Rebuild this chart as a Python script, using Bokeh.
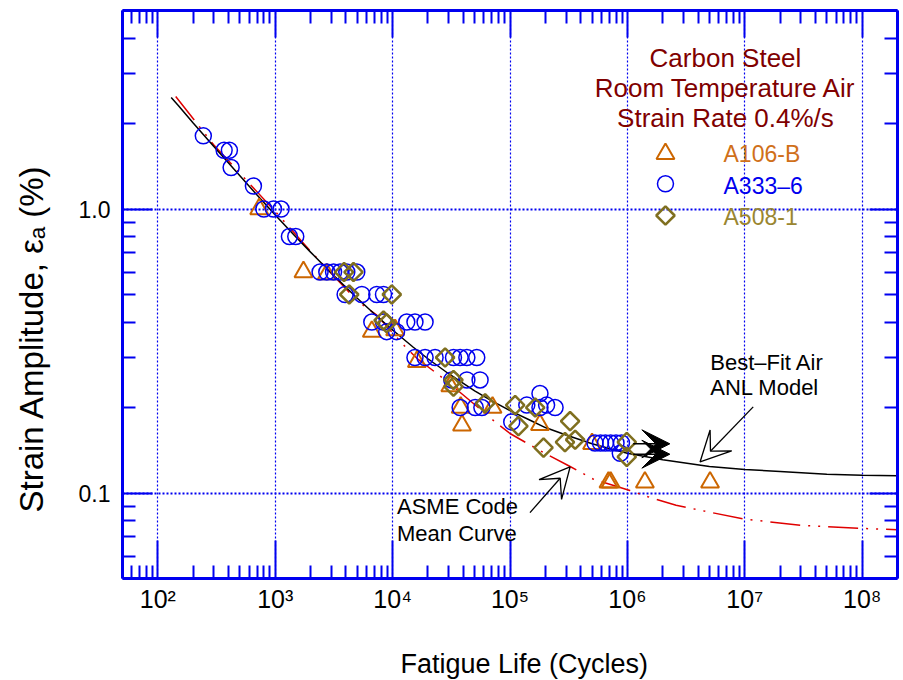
import numpy as np
from bokeh.plotting import figure
from bokeh.models import (LogAxis, FixedTicker, Range1d, LinearScale, Label, Arrow,
                          VeeHead, ColumnDataSource, CustomJSTickFormatter, Title)
from bokeh.embed import file_html
from bokeh.resources import INLINE

# ---------------- data ----------------
# A106-B (triangles)
a106_N = [730, 1740, 2750, 6650, 10500, 16100, 31000, 38000, 39000, 71000,
          180000, 500000, 690000, 720000, 1.41e6, 5.06e6]
a106_eps = [1.0, 0.6, 0.59, 0.37, 0.375, 0.29, 0.238, 0.2, 0.173, 0.2,
            0.174, 0.149, 0.109, 0.109, 0.109, 0.109]

# A333-6 (circles)
a333_N = [244, 367, 407, 421, 652, 800, 966, 1122, 1321, 1496,
          2410, 2750, 3140, 3570, 4070, 4950,
          3940, 5470, 7330, 8360,
          6650, 8360, 13200, 15500, 18900,
          8900, 10800,
          15500, 18900, 23000, 33000, 37600, 42900, 52100,
          31900, 42900, 55600,
          37600, 50500, 57600,
          103500, 139000, 180000, 180000, 205000, 242000,
          530000, 590000, 650000, 720000, 800000, 890000, 870000]
a333_eps = [1.81, 1.61, 1.61, 1.40, 1.205, 1.0, 1.0, 1.0, 0.8, 0.8,
            0.6, 0.6, 0.6, 0.6, 0.6, 0.6,
            0.5, 0.5, 0.5, 0.5,
            0.4, 0.4, 0.4, 0.4, 0.4,
            0.37, 0.37,
            0.3, 0.3, 0.3, 0.3, 0.3, 0.3, 0.3,
            0.25, 0.25, 0.25,
            0.2, 0.2, 0.2,
            0.178, 0.204, 0.224, 0.2, 0.204, 0.2,
            0.15, 0.15, 0.15, 0.15, 0.15, 0.15, 0.138]

# A508-1 (diamonds)
a508_N = [3860, 4640, 4270, 9840, 8360, 8900, 28000, 33000, 33000, 61400,
          110600, 118000, 164000, 193000, 294000, 325000, 359000, 988000, 988000]
a508_eps = [0.6, 0.6, 0.5, 0.5, 0.405, 0.396, 0.3, 0.25, 0.237, 0.207,
            0.204, 0.172, 0.2, 0.1445, 0.151, 0.179, 0.154, 0.151, 0.134]

# run-out tests (arrows)
runout_N_start = [1.12e6, 1.12e6]
runout_N_end = [2.3e6, 2.3e6]
runout_eps = [0.149, 0.137]

# Best-fit air ANL model curve
anl_N = [130, 150, 200, 300, 500, 700, 1000, 1500, 2000, 3000, 5000, 7000,
         1e4, 1.5e4, 2e4, 3e4, 5e4, 7e4, 1e5, 1.5e5, 2e5, 3e5, 5e5, 7e5,
         1e6, 2e6, 5e6, 1e7, 2e7, 5e7, 1e8, 2e8]
anl_eps = [2.47, 2.31, 2.01, 1.66, 1.31, 1.12, 0.953, 0.797, 0.705, 0.595,
           0.485, 0.427, 0.375, 0.326, 0.297, 0.263, 0.229, 0.211, 0.195,
           0.180, 0.170, 0.160, 0.149, 0.1435, 0.138, 0.131, 0.124, 0.121,
           0.119, 0.1165, 0.1155, 0.115]

# ASME Code mean curve
asme_N = [142, 300, 1000, 2000, 5000, 7330, 12400, 16100, 27100, 50000, 74600,
          1e5, 1.8e5, 3.25e5, 5.1e5, 1.05e6, 1.5e6, 2.6e6, 9.7e6, 3e7, 1e8, 2e8]
asme_eps = [2.49, 1.68, 0.98, 0.71, 0.475, 0.423, 0.332, 0.298, 0.253, 0.205,
            0.178, 0.162, 0.141, 0.124, 0.112, 0.102, 0.097, 0.0905, 0.081,
            0.077, 0.075, 0.0743]

# ticks
x_major = [1e2, 1e3, 1e4, 1e5, 1e6, 1e7, 1e8]
x_major_labels = ["10²", "10³", "10⁴", "10⁵", "10⁶", "10⁷", "10⁸"]
x_minor = [m * 10.0 ** e for e in range(1, 9) for m in range(2, 10)]
y_major = [0.1, 1.0]
y_major_labels = ["0.1", "1.0"]
y_minor = [m * 10.0 ** e for e in (-2, -1, 0) for m in range(2, 10)]

x_title = "Fatigue Life (Cycles)"
y_title = "Strain Amplitude, εₐ (%)"
title_lines = ["Carbon Steel", "Room Temperature Air", "Strain Rate 0.4%/s"]
legend_labels = ["A106-B", "A333–6", "A508-1"]

# ---------------- styles ----------------
BLUE = "#0000f0"
C_TRI = "#cc6600"
C_CIR = "#0000ee"
C_DIA = "#7f6f1f"
FONT = "Liberation Sans"

p = figure(width=903, height=680, x_axis_type="log", y_axis_type="log",
           x_range=Range1d(50, 2e8), y_range=Range1d(0.05, 5),
           output_backend="svg", toolbar_location=None,
           min_border_left=122, min_border_right=6, min_border_top=10,
           min_border_bottom=102)
p.outline_line_color = None
p.background_fill_color = "white"
p.border_fill_color = "white"

# fractional frame coordinates for the annotation block
p.extra_x_ranges = {"frac": Range1d(0, 1)}
p.extra_y_ranges = {"frac": Range1d(0, 1)}
p.extra_x_scales = {"frac": LinearScale()}
p.extra_y_scales = {"frac": LinearScale()}


def style_axis(ax, major_in, show_labels):
    ax.axis_line_color = BLUE
    ax.axis_line_width = 3
    ax.major_tick_line_color = BLUE
    ax.minor_tick_line_color = BLUE
    ax.major_tick_line_width = 2
    ax.minor_tick_line_width = 2
    ax.major_tick_in = major_in
    ax.major_tick_out = 0
    ax.minor_tick_in = 13
    ax.minor_tick_out = 0
    if not show_labels:
        ax.formatter = CustomJSTickFormatter(code="return ' ';")
        ax.major_label_text_font_size = "2px"
        ax.major_label_text_color = None
        ax.major_label_standoff = 0


xax = p.xaxis[0]
xax.ticker = FixedTicker(ticks=x_major, minor_ticks=x_minor)
xax.major_label_overrides = {t: s for t, s in zip(x_major, x_major_labels)}
style_axis(xax, 38, True)
xax.major_label_text_font = FONT
xax.major_label_text_font_size = "25px"
xax.major_label_text_color = "black"
xax.major_label_standoff = 6
# blank axis label used only as a spacer so the title below sits lower
xax.axis_label = " "
xax.axis_label_text_font = FONT
xax.axis_label_text_font_size = "24px"
xax.axis_label_standoff = 0

yax = p.yaxis[0]
yax.ticker = FixedTicker(ticks=y_major, minor_ticks=y_minor)
yax.major_label_overrides = {t: s for t, s in zip(y_major, y_major_labels)}
style_axis(yax, 30, True)
yax.major_label_text_font = FONT
yax.major_label_text_font_size = "23px"
yax.major_label_text_color = "black"
yax.major_label_standoff = 12
yax.axis_label = " "
yax.axis_label_text_font = FONT
yax.axis_label_text_font_size = "8px"
yax.axis_label_standoff = 0

top = LogAxis(ticker=FixedTicker(ticks=x_major, minor_ticks=x_minor))
style_axis(top, 27, False)
p.add_layout(top, "above")
right = LogAxis(ticker=FixedTicker(ticks=y_major, minor_ticks=y_minor))
style_axis(right, 28, False)
p.add_layout(right, "right")

p.xgrid.grid_line_color = BLUE
p.xgrid.grid_line_width = 1.2
p.xgrid.grid_line_dash = "2 2"
p.ygrid.grid_line_color = BLUE
p.ygrid.grid_line_width = 2
p.ygrid.grid_line_dash = "2 2"

# axis titles
p.add_layout(Title(text=x_title, align="left", offset=278, standoff=2,
                   vertical_align="bottom",
                   text_font=FONT, text_font_size="27px",
                   text_font_style="normal", text_color="black"), "below")
p.add_layout(Title(text=y_title, align="left", offset=66, standoff=23,
                   vertical_align="top",
                   text_font=FONT, text_font_size="33px",
                   text_font_style="normal", text_color="black"), "left")

# curves
p.line(asme_N, asme_eps, line_color="#e00000", line_width=1.5,
       line_dash="30 8 2 8 2 8")
p.line(anl_N, anl_eps, line_color="black", line_width=1.5)

# data points
p.scatter(a106_N, a106_eps, marker="triangle", size=18, fill_color=None,
          line_color=C_TRI, line_width=2)
p.scatter(a333_N, a333_eps, marker="circle", size=16, fill_color=None,
          line_color=C_CIR, line_width=1.5)
p.scatter(a508_N, a508_eps, marker="square", angle=np.pi / 4, size=13,
          fill_color=None, line_color=C_DIA, line_width=2.5)

# run-out arrows
ro = ColumnDataSource(dict(x0=runout_N_start, x1=runout_N_end,
                           y0=runout_eps, y1=runout_eps))
p.add_layout(Arrow(source=ro, x_start="x0", y_start="y0", x_end="x1", y_end="y1",
                   line_color="black", line_width=1.5,
                   end=VeeHead(size=28, fill_color="black", line_color="black")))

# annotation arrows
p.add_layout(Arrow(x_start=1.18e7, y_start=0.201, x_end=4.16e6, y_end=0.1286,
                   line_color="black", line_width=1.3,
                   end=VeeHead(size=30, fill_color="white", line_color="black",
                               line_width=1.3)))
p.add_layout(Arrow(x_start=1.48e5, y_start=0.0853, x_end=3.25e5, y_end=0.1235,
                   line_color="black", line_width=1.3,
                   end=VeeHead(size=30, fill_color="white", line_color="black",
                               line_width=1.3)))

for txt, xx, yy in (("Best–Fit Air", 5.08e6, 0.289), ("ANL Model", 5.08e6, 0.236),
                    ("ASME Code", 1.09e4, 0.09), ("Mean Curve", 1.09e4, 0.0721)):
    p.add_layout(Label(x=xx, y=yy, text=txt, text_font=FONT, text_font_size="22px",
                       text_color="black", text_align="left",
                       text_baseline="alphabetic"))

# title block
for txt, yy in zip(title_lines, (0.916, 0.8632, 0.8104)):
    p.add_layout(Label(x=0.778, y=yy, x_range_name="frac", y_range_name="frac",
                       text=txt, text_font=FONT, text_font_size="26px",
                       text_color="#800000", text_align="center",
                       text_baseline="alphabetic"))

# custom legend
sw_x = 0.7006
sw_y = [0.7477, 0.6949, 0.6391]
p.scatter([sw_x], [sw_y[0]], x_range_name="frac", y_range_name="frac",
          marker="triangle", size=18, fill_color=None, line_color=C_TRI, line_width=2)
p.scatter([sw_x], [sw_y[1]], x_range_name="frac", y_range_name="frac",
          marker="circle", size=16, fill_color=None, line_color=C_CIR, line_width=1.5)
p.scatter([sw_x], [sw_y[2]], x_range_name="frac", y_range_name="frac",
          marker="square", angle=np.pi / 4, size=13, fill_color=None,
          line_color=C_DIA, line_width=2.5)
for txt, yy, col in zip(legend_labels, (0.7465, 0.6919, 0.6361),
                        ("#d0701a", C_CIR, "#9a8630")):
    p.add_layout(Label(x=0.7755, y=yy, x_range_name="frac", y_range_name="frac",
                       text=txt, text_font=FONT, text_font_size="23px",
                       text_color=col, text_align="left",
                       text_baseline="alphabetic"))

open("out.html", "w").write(file_html(p, INLINE))
